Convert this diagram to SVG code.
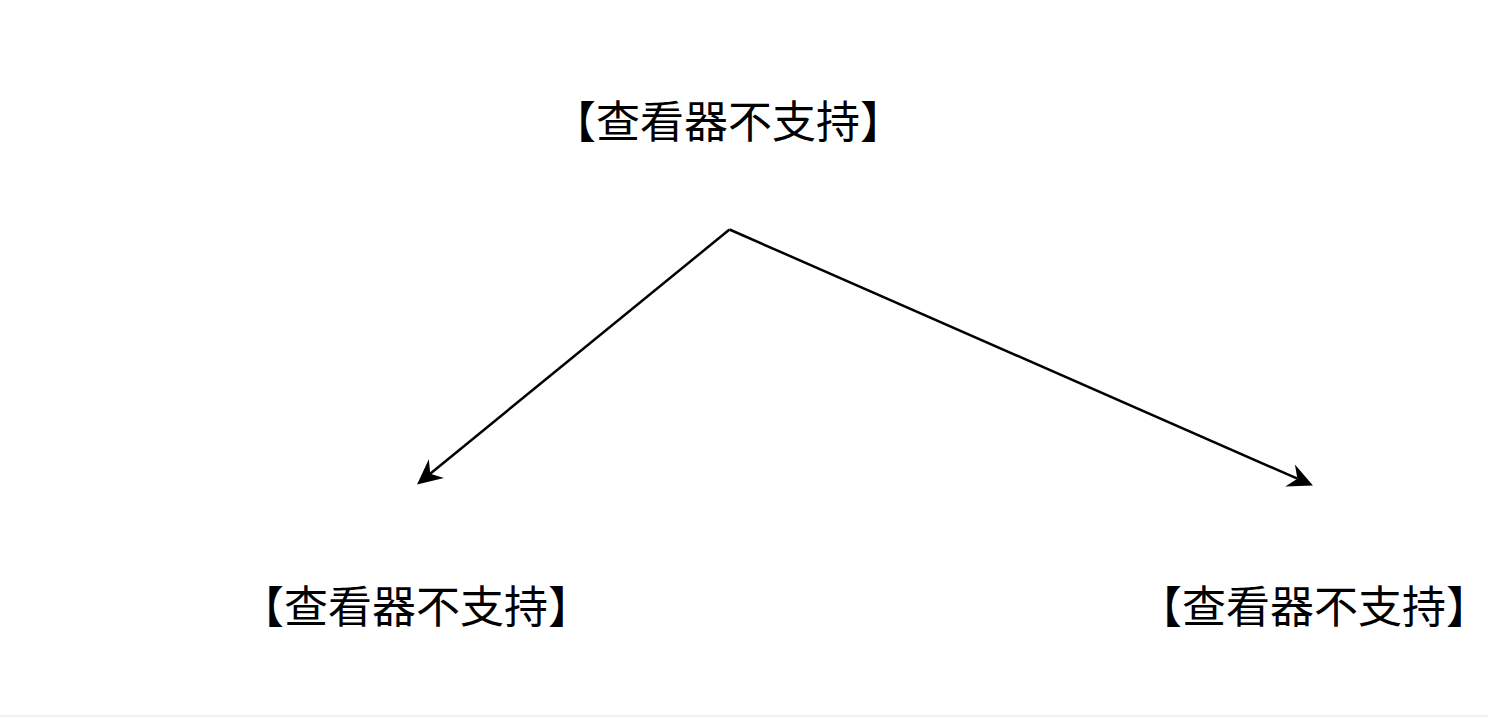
<svg xmlns="http://www.w3.org/2000/svg" width="1488" height="717" viewBox="0 0 1488 717">
<style>
.lbl{font-family:"Noto Sans CJK SC","Noto Sans",sans-serif;font-size:44px;font-weight:400;fill:#000;text-anchor:middle}
.edge{fill:none;stroke:#000;stroke-width:2.5}
</style>
<defs>
<marker id="arr" markerUnits="userSpaceOnUse" viewBox="-12 -15 34 30" refX="0" refY="0" markerWidth="34" markerHeight="30" orient="auto">
<path d="M17,0 L-8,-12 L0,0 L-8,12 Z" fill="#000"/>
</marker>
</defs>
<rect width="1488" height="717" fill="#fff"/>
<line x1="0" y1="716" x2="1488" y2="716" stroke="#f0f0f0" stroke-width="2"/>
<g id="node-top"><text class="lbl" x="728" y="138">【查看器不支持】</text></g>
<g id="node-left"><text class="lbl" x="416" y="623">【查看器不支持】</text></g>
<g id="node-right"><text class="lbl" x="1314" y="623">【查看器不支持】</text></g>
<g id="connectors">
<line class="edge" x1="729.5" y1="229.5" x2="430.2" y2="473.7" marker-end="url(#arr)"/>
<line class="edge" x1="729.5" y1="229.5" x2="1297.4" y2="478.7" marker-end="url(#arr)"/>
</g>
</svg>
